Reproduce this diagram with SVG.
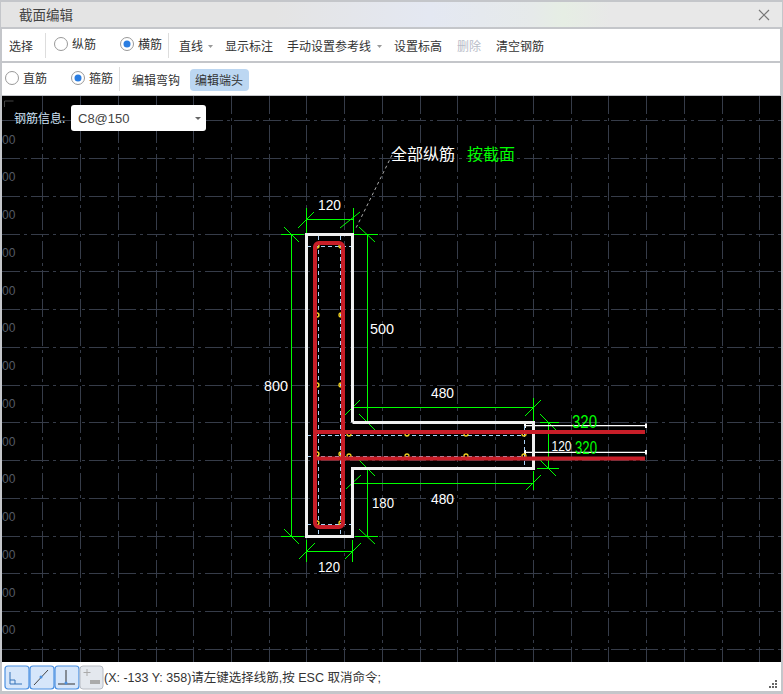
<svg xmlns="http://www.w3.org/2000/svg" width="783" height="694" viewBox="0 0 783 694">
<style>
text{font-family:"Liberation Sans","Noto Sans CJK SC",sans-serif}
.ui{font-family:"Noto Sans CJK SC","Liberation Sans",sans-serif;font-size:12px;fill:#333}
.dim{font-family:"Liberation Sans",sans-serif;font-size:15.500px;fill:#fff;text-anchor:middle}
.dg{font-family:"Liberation Sans",sans-serif;font-size:18px;fill:#0f0;text-anchor:middle}
.g{stroke:#363c49;stroke-width:1;stroke-dasharray:18 4 3 4;fill:none}
.gr{stroke:#0f0;stroke-width:1;fill:none}
.gb{stroke:#0f0;stroke-width:1;fill:none}
.w{stroke:#f0f0f0;stroke-width:3;fill:none}
.r{stroke:#c81e28;stroke-width:4;fill:none}
.bl{stroke:#a8d0f4;stroke-width:1;stroke-dasharray:4 3;fill:none}
.y{stroke:#f0d020;stroke-width:1.300;fill:none}
.radio{fill:#fff;stroke:#999}
.btn{fill:#d6e6fa;stroke:#4a90e2;stroke-width:1.200}
</style>
<rect width="783" height="694" fill="#c4c6ca"/>
<defs><linearGradient id="tb" x1="0" x2="1" y1="0" y2="0"><stop offset="0" stop-color="#e4e4e4"/><stop offset=".35" stop-color="#e4e4e4"/><stop offset=".55" stop-color="#e4e8f2"/><stop offset=".68" stop-color="#e6eaea"/><stop offset=".72" stop-color="#e6eee4"/><stop offset=".78" stop-color="#e8e8e8"/><stop offset="1" stop-color="#e8e8e8"/></linearGradient></defs>
<g id="titlebar">
<rect x="1" y="2" width="781" height="25" fill="url(#tb)"/>
<text x="19" y="20" class="ui" style="font-size:13.500px;fill:#444">截面编辑</text>
<path d="M759 10L769 20M769 10L759 20" stroke="#777" stroke-width="1.200" fill="none"/>
</g>
<g id="toolbar1">
<rect x="2" y="29" width="778" height="32" fill="#fff"/>
<text x="9" y="51" class="ui">选择</text>
<line x1="45.500" y1="33" x2="45.500" y2="58" stroke="#ddd"/>
<circle cx="61" cy="44" r="6.500" class="radio"/>
<text x="72" y="49" class="ui">纵筋</text>
<circle cx="127" cy="44" r="6.500" class="radio"/><circle cx="127" cy="44" r="3.500" fill="#2a7de1"/>
<text x="138" y="49" class="ui">横筋</text>
<line x1="168.500" y1="33" x2="168.500" y2="58" stroke="#ddd"/>
<text x="179" y="51" class="ui">直线</text>
<path d="M208 45h5l-2.500 3z" fill="#999"/>
<text x="225" y="51" class="ui">显示标注</text>
<text x="287" y="51" class="ui">手动设置参考线</text>
<path d="M377 45h5l-2.500 3z" fill="#999"/>
<text x="394" y="51" class="ui">设置标高</text>
<text x="457" y="51" class="ui" style="fill:#b8bcc8">删除</text>
<text x="496" y="51" class="ui">清空钢筋</text>
</g>
<g id="toolbar2">
<rect x="2" y="63" width="778" height="32" fill="#fff"/>
<circle cx="12" cy="78" r="6.500" class="radio"/>
<text x="23" y="83" class="ui">直筋</text>
<circle cx="78" cy="78" r="6.500" class="radio"/><circle cx="78" cy="78" r="3.500" fill="#2a7de1"/>
<text x="89" y="83" class="ui">箍筋</text>
<line x1="119.500" y1="67" x2="119.500" y2="91" stroke="#ddd"/>
<text x="132" y="85" class="ui">编辑弯钩</text>
<rect x="190" y="69" width="59" height="22" rx="4" fill="#bcd7f2"/>
<text x="195" y="85" class="ui">编辑端头</text>
</g>
<g id="canvas">
<rect x="2" y="96" width="779" height="566" fill="#000"/>
<g id="grid">
<path class="g" d="M2 120.500H781M2 158.500H781M2 196.500H781M2 234.500H781M2 271.500H781M2 309.500H781M2 347.500H781M2 385.500H781M2 422.500H781M2 460.500H781M2 498.500H781M2 536.500H781M2 573.500H781M2 611.500H781M2 649.500H781"/>
<path class="g" d="M42.500 96V662M80.500 96V662M118.500 96V662M156.500 96V662M193.500 96V662M231.500 96V662M269.500 96V662M306.500 96V662M344.500 96V662M382.500 96V662M420.500 96V662M457.500 96V662M495.500 96V662M533.500 96V662M571.500 96V662M608.500 96V662M646.500 96V662M684.500 96V662M722.500 96V662M759.500 96V662"/>
</g>
<g fill="#555b66" style="font-size:12px">
<text x="2" y="144">00</text><text x="2" y="181">00</text><text x="2" y="219">00</text><text x="2" y="257">00</text><text x="2" y="295">00</text><text x="2" y="332">00</text><text x="2" y="370">00</text><text x="2" y="408">00</text><text x="2" y="446">00</text><text x="2" y="483">00</text><text x="2" y="521">00</text><text x="2" y="559">00</text><text x="2" y="597">00</text><text x="2" y="634">00</text>
</g>
<path d="M4.500 107v-6h9" stroke="#444" fill="none"/>
</g>
<g id="rebar-info">
<text x="14" y="123" class="ui" style="fill:#cfe2f5">钢筋信息:</text>
<rect x="71" y="105" width="135" height="26" rx="3" fill="#fff"/>
<text x="78" y="123" style="font-size:13px;fill:#444">C8@150</text>
<path d="M195 117h6l-3 3z" fill="#666"/>
</g>
<g id="connectors">
<path d="M392 155L356 228" stroke="#aaa" stroke-width="1" stroke-dasharray="3 3" fill="none"/>
<path class="gb" d="M306.500 219.500H353.500M306.500 551.500H352.500M291.500 234V536M367.500 234V423M367.500 469V536M352.500 407.500H533.500M352.500 483.500H533.500M548.500 422V468"/>
<path class="gr" d="M306.500 208V234M353.500 208V234M306.500 540V562M352.500 540V562"/>
<path class="gr" d="M298 228L314 212M340 228L360 212M299 559L315 543M345 559L361 543"/>
<path class="gb" d="M281 234.500H304M354 234.500H378M281 536.500H304M355 536.500H378"/>
<path class="gr" d="M284 227L299 242M359 227L375 242M284 529L299 544M359 529L375 544"/>
<path d="M352.500 397V420M352.500 471V492" stroke="#0f0" stroke-width="1.500" fill="none"/>
<path class="gr" d="M533.500 398V421M533.500 471V490M345 415L360 400M346 489L361 475M525 416L541 400M526 490L541 475"/>
<path class="gb" d="M355 423.500H378M355 469.500H378M540 422.500H559M537 468.500H559"/>
<path class="gr" d="M359 414L375 430M359 460L375 476M540 414L556 430M540 460L556 476"/>
<g id="tail-lines" stroke="#fff" stroke-width="1.200" fill="none">
<path d="M524 425.700H646M524 452.300H646"/>
<path d="M525 423.500v4.500M646 423.500v4.500M525 450v4.500M646 450v4.500" stroke-width="2"/>
</g>
</g>
<g id="section">
<path class="bl" d="M307 246.500H352M318.500 236V534M340.500 236V534M307 524.500H352M307 435.500H524M307 456.500H524M524.500 426V468"/>
<g class="y">
<circle cx="317" cy="246" r="2"/><circle cx="341" cy="246" r="2"/>
<circle cx="317" cy="315" r="2"/><circle cx="341" cy="315" r="2"/>
<circle cx="317" cy="385" r="2"/><circle cx="341" cy="385" r="2"/>
<circle cx="317" cy="454" r="2"/><circle cx="341" cy="454" r="2"/>
<circle cx="317" cy="523" r="2"/><circle cx="341" cy="523" r="2"/>
<circle cx="349" cy="434" r="2"/><circle cx="407" cy="434" r="2"/><circle cx="466" cy="434" r="2"/><circle cx="524" cy="434" r="2"/>
<circle cx="349" cy="456" r="2"/><circle cx="407" cy="456" r="2"/><circle cx="466" cy="456" r="2"/><circle cx="524" cy="456" r="2"/>
</g>
<path class="w" d="M352.500 422.500V234.500H306.500V536.500H352.500V468.500H533.500M352.500 422.500H533.500V470"/>
<rect x="315" y="243" width="28" height="284" rx="4" class="r"/>
<path class="r" d="M314 432H645M314 458.500H645"/>
</g>
<g id="labels">
<text x="329.500" y="210" class="dim" textLength="23" lengthAdjust="spacingAndGlyphs">120</text>
<text x="382" y="334" class="dim" textLength="24" lengthAdjust="spacingAndGlyphs">500</text>
<text x="276" y="391" class="dim" textLength="24" lengthAdjust="spacingAndGlyphs">800</text>
<text x="442.500" y="398" class="dim" textLength="23" lengthAdjust="spacingAndGlyphs">480</text>
<text x="442.500" y="504" class="dim" textLength="23" lengthAdjust="spacingAndGlyphs">480</text>
<text x="383" y="508" class="dim" textLength="22" lengthAdjust="spacingAndGlyphs">180</text>
<text x="329" y="572" class="dim" textLength="22" lengthAdjust="spacingAndGlyphs">120</text>
<text x="561.500" y="451" class="dim" textLength="20" lengthAdjust="spacingAndGlyphs">120</text>
<text x="584.500" y="428" class="dg" textLength="25" lengthAdjust="spacingAndGlyphs">320</text>
<text x="586" y="454" class="dg" textLength="22" lengthAdjust="spacingAndGlyphs">320</text>
<text x="391" y="160" style="font-size:16px;fill:#fff;font-family:'Noto Sans CJK SC',sans-serif">全部纵筋</text>
<text x="467" y="160" style="font-size:16px;fill:#0f0;font-family:'Noto Sans CJK SC',sans-serif">按截面</text>
</g>
<g id="statusbar">
<rect x="2" y="662" width="779" height="29" fill="#fff"/>
<rect x="5" y="666" width="24" height="23" rx="3" class="btn"/>
<path d="M10 672V684H22M10 680H15V684" stroke="#3572b8" fill="none"/>
<rect x="30" y="666" width="24" height="23" rx="3" class="btn"/>
<path d="M34 685L48 670" stroke="#444" fill="none"/><circle cx="41" cy="677" r="1.500" fill="#4a90e2"/>
<rect x="55" y="666" width="24" height="23" rx="3" class="btn"/>
<path d="M66 670V683M58 684H75" stroke="#333" fill="none"/><circle cx="66" cy="683" r="1.500" fill="#4a90e2"/>
<rect x="80" y="666" width="23" height="23" rx="3" fill="#e4e8ee" stroke="#b8bcc4"/>
<path d="M87 669v7M83.500 672.500h7" stroke="#aaa" fill="none"/><rect x="90" y="680" width="10" height="4" fill="#aaa"/>
<text x="104" y="682" style="font-size:12.500px;fill:#333">(X: -133 Y: 358)请左键选择线筋,按 ESC 取消命令;</text>
<path d="M775 680h2v2h-2zM772 683h2v2h-2zM775 683h2v2h-2zM769 686h2v2h-2zM772 686h2v2h-2zM775 686h2v2h-2z" fill="#666"/>
</g>
</svg>
